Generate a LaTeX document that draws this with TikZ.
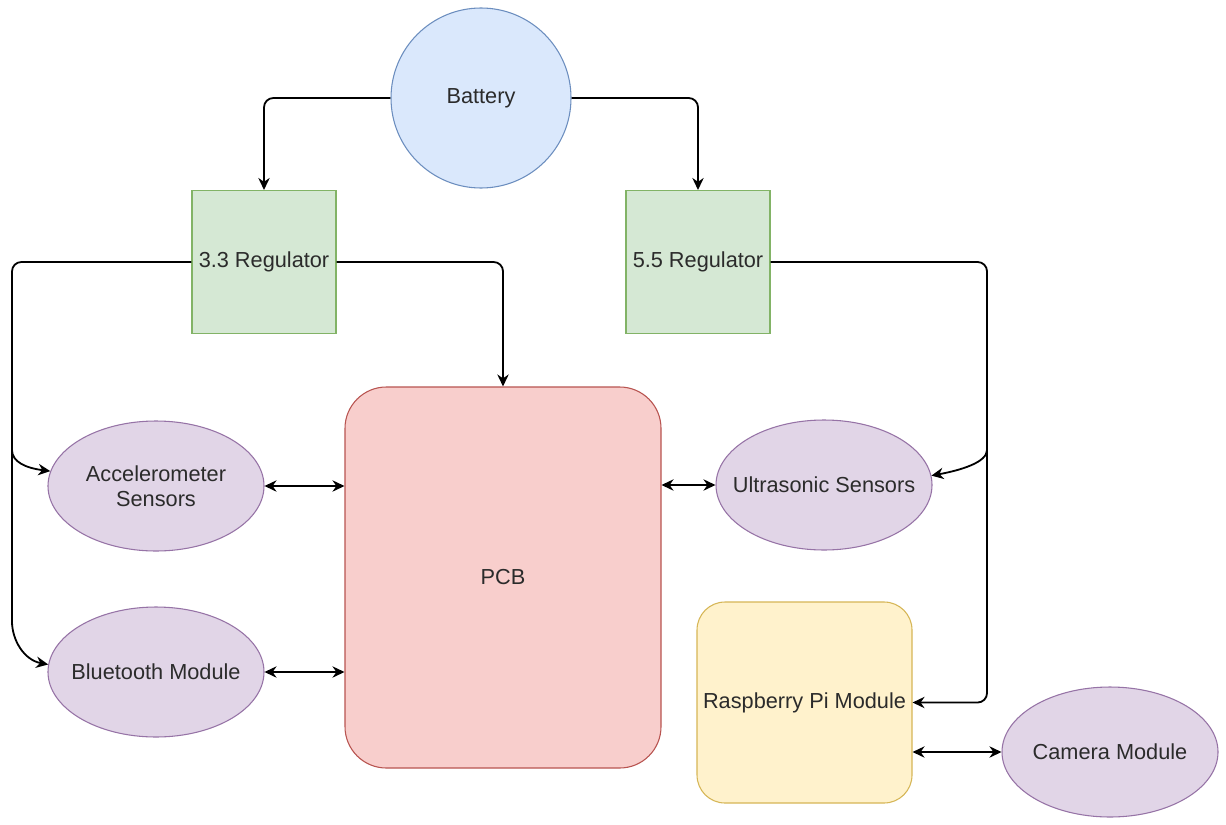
\documentclass[tikz,border=0pt]{standalone}
\usepackage{fontspec}
\setmainfont{Liberation Sans}
\usetikzlibrary{arrows.meta,shapes.geometric}

\definecolor{blueFill}{HTML}{DAE8FC}
\definecolor{blueLine}{HTML}{6C8EBF}
\definecolor{greenFill}{HTML}{D5E8D4}
\definecolor{greenLine}{HTML}{82B366}
\definecolor{redFill}{HTML}{F8CECC}
\definecolor{redLine}{HTML}{B85450}
\definecolor{yellowFill}{HTML}{FFF2CC}
\definecolor{yellowLine}{HTML}{D6B656}
\definecolor{purpleFill}{HTML}{E1D5E7}
\definecolor{purpleLine}{HTML}{9673A6}
\definecolor{labelText}{HTML}{2B2B2B}

\tikzset{
  tag/.style={align=center, font=\fontsize{16.3}{19}\selectfont, text=labelText, inner sep=0pt},
  part/.style={draw, line width=0.8pt, inner sep=0pt, tag},
  cell/.style={part, ellipse, fill=blueFill, draw=blueLine},
  regbox/.style={part, rectangle, fill=greenFill, draw=greenLine,
    minimum width=108pt, minimum height=107.25pt},
  % ellipse of fixed size; its caption is a centred label so it never widens the shape
  blob/.style={draw, line width=0.8pt, inner sep=0pt, ellipse, fill=purpleFill, draw=purpleLine,
    minimum width=162pt, minimum height=97.5pt, label={[tag]center:#1}},
  wire/.style={line width=1.35pt, -{Stealth[length=9pt,width=8.5pt]}, rounded corners=7pt},
  plain/.style={line width=1.35pt, rounded corners=7pt},
  bus/.style={line width=1.35pt, {Stealth[length=9pt,width=8.5pt]}-{Stealth[length=9pt,width=8.5pt]}}
}

\begin{document}
\begin{tikzpicture}[x=0.75pt,y=-0.75pt]
  \useasboundingbox[fill=white] (0,0) rectangle (1226,824);

  % power source and regulators
  \node[cell, minimum width=135pt, minimum height=135pt] (bat) at (481,98) {Battery};
  \node[regbox] (r33) at (264,262) {3.3 Regulator};
  \node[regbox] (r55) at (698,262) {5.5 Regulator};

  % main board
  \node[part, rectangle, rounded corners=31pt, fill=redFill, draw=redLine,
        minimum width=237pt, minimum height=285.75pt] (pcb) at (503,577.5) {PCB};

  % peripherals
  \node[blob={Accelerometer\\Sensors}] (acc) at (156,486) {};
  \node[blob={Bluetooth Module}] (bt)  at (156,672) {};
  \node[blob={Ultrasonic Sensors}] (us)  at (824,485) {};
  \node[part, rectangle, rounded corners=21pt, fill=yellowFill, draw=yellowLine,
        minimum width=161.25pt, minimum height=150.75pt] (rpi) at (804.5,702.5) {Raspberry Pi Module};
  \node[blob={Camera Module}] (cam) at (1110,752) {};

  % bus junctions on the outer rails
  \coordinate (lj) at (12,450);
  \coordinate (rj) at (987,450);

  % battery to regulators
  \draw[wire] (bat.west) -| (r33.north);
  \draw[wire] (bat.east) -| (r55.north);

  % 3.3 V rail
  \draw[wire] (r33.east) -| (pcb.north);
  \draw[plain] (r33.west) -| (lj);
  \draw[wire] (lj) .. controls (12,462) and (26,468) .. (acc.172);
  \draw[wire] (lj) -- (12,612) .. controls (12,640) and (24,660) .. (bt.176);

  % 5.5 V rail
  \draw[plain] (r55.east) -| (rj);
  \draw[wire] (rj) .. controls (987,462) and (962,470) .. (us.5);
  \draw[wire] (rj) |- (rpi.east);

  % data links
  \draw[bus] (acc.east) -- (pcb.west |- acc.east);
  \draw[bus] (bt.east) -- (pcb.west |- bt.east);
  \draw[bus] (pcb.east |- us.west) -- (us.west);
  \draw[bus] (rpi.east |- cam.west) -- (cam.west);
\end{tikzpicture}
\end{document}
